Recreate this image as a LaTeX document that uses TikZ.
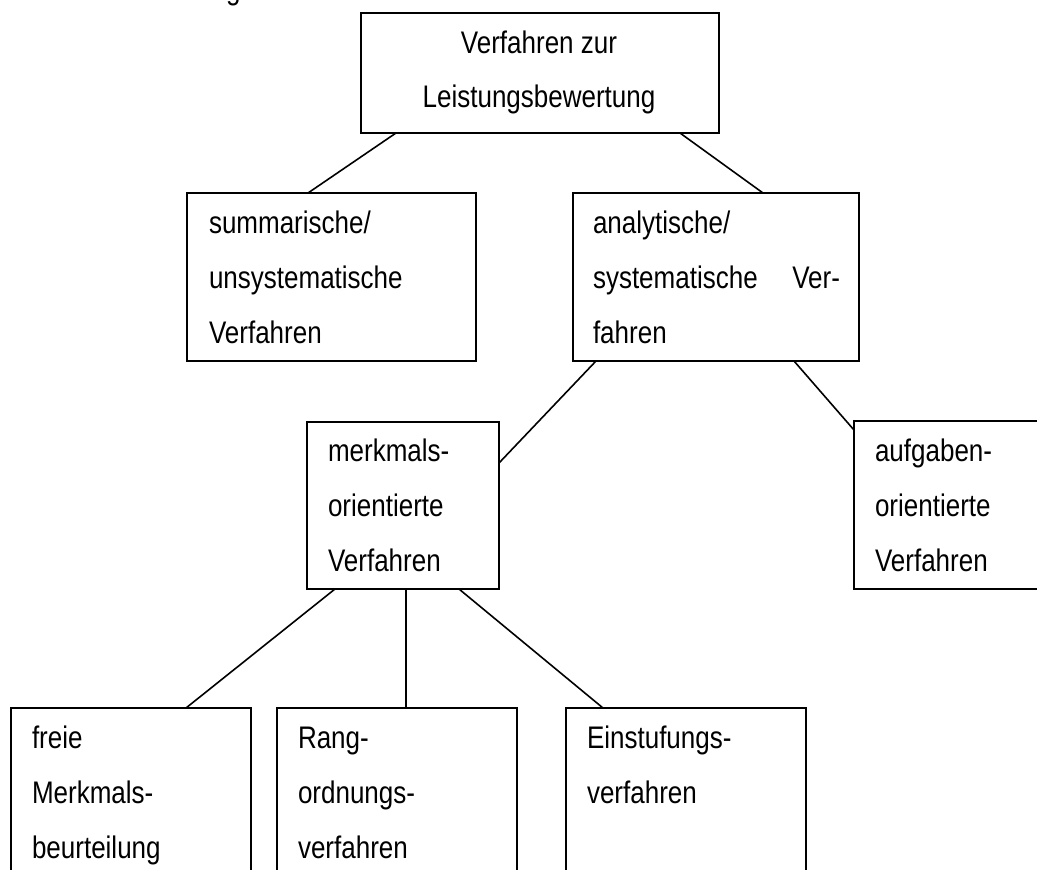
\documentclass[tikz,border=0pt]{standalone}
\usepackage{fontspec}
\usepackage{graphicx}
\setmainfont{Liberation Sans}
\usetikzlibrary{calc}
\newcommand\vs[1]{\scalebox{1}[1.2]{#1}}
\tikzset{
  box/.style={draw, line width=2pt, inner sep=0pt, outer sep=0pt, anchor=north west, minimum width=#1},
  conn/.style={draw, line width=1.6pt},
  txt/.style={anchor=base west, inner sep=0pt, outer sep=0pt, font=\fontsize{26pt}{30pt}\selectfont},
  ctxt/.style={anchor=base, inner sep=0pt, outer sep=0pt, font=\fontsize{26pt}{30pt}\selectfont},
  etxt/.style={anchor=base east, inner sep=0pt, outer sep=0pt, font=\fontsize{26pt}{30pt}\selectfont}
}
\begin{document}
\begin{tikzpicture}[x=1pt,y=-1pt]
\useasboundingbox (0,0) rectangle (1037,870);
\clip (0,0) rectangle (1037,870);
\fill[white] (0,0) rectangle (1037,870);

% boxes
\node[box=358pt, minimum height=120pt] (top) at (361,13) {};
\node[box=289pt, minimum height=168pt] (summ) at (187,193) {};
\node[box=286pt, minimum height=168pt] (anal) at (573,193) {};
\node[box=192pt, minimum height=167pt] (merk) at (307,422) {};
\node[box=206pt, minimum height=168pt] (aufg) at (854,421) {};
\node[box=240pt, minimum height=192pt] (freie) at (11,708) {};
\node[box=240pt, minimum height=192pt] (rang) at (277,708) {};
\node[box=240pt, minimum height=192pt] (einst) at (566,708) {};

% cut-off text fragment at top
\node[txt] (frag) at (226,-1) {\vs{g}};

% texts
\node[ctxt] (t1) at (539,53) {\vs{Verfahren zur}};
\node[ctxt] (t2) at (539,107) {\vs{Leistungsbewertung}};

\node[txt] (s1) at (209,233) {\vs{summarische/}};
\node[txt] (s2) at (209,288) {\vs{unsystematische}};
\node[txt] (s3) at (209,343) {\vs{Verfahren}};

\node[txt] (a1) at (593,233) {\vs{analytische/}};
\node[txt] (a2) at (593,288) {\vs{systematische}};
\node[etxt] (a2b) at (840,288) {\vs{Ver-}};
\node[txt] (a3) at (593,343) {\vs{fahren}};

\node[txt] (m1) at (328,461) {\vs{merkmals-}};
\node[txt] (m2) at (328,516) {\vs{orientierte}};
\node[txt] (m3) at (328,571) {\vs{Verfahren}};

\node[txt] (u1) at (875,461) {\vs{aufgaben-}};
\node[txt] (u2) at (875,516) {\vs{orientierte}};
\node[txt] (u3) at (875,571) {\vs{Verfahren}};

\node[txt] (f1) at (32,748) {\vs{freie}};
\node[txt] (f2) at (32,803) {\vs{Merkmals-}};
\node[txt] (f3) at (32,858) {\vs{beurteilung}};

\node[txt] (r1) at (298,748) {\vs{Rang-}};
\node[txt] (r2) at (298,803) {\vs{ordnungs-}};
\node[txt] (r3) at (298,858) {\vs{verfahren}};

\node[txt] (e1) at (587,748) {\vs{Einstufungs-}};
\node[txt] (e2) at (587,803) {\vs{verfahren}};

% connectors
\draw[conn] ([xshift=35pt]top.south west) -- ([xshift=121pt]summ.north west);
\draw[conn] ([xshift=319pt]top.south west) -- ([xshift=190pt]anal.north west);
\draw[conn] ([xshift=23pt]anal.south west) -- ([yshift=-41pt]merk.north east);
\draw[conn] ([xshift=221pt]anal.south west) -- ([yshift=-9pt]aufg.north west);
\draw[conn] ([xshift=28pt]merk.south west) -- ([xshift=175pt]freie.north west);
\draw[conn] ([xshift=99pt]merk.south west) -- ([xshift=129pt]rang.north west);
\draw[conn] ([xshift=152pt]merk.south west) -- ([xshift=37pt]einst.north west);
\end{tikzpicture}
\end{document}
